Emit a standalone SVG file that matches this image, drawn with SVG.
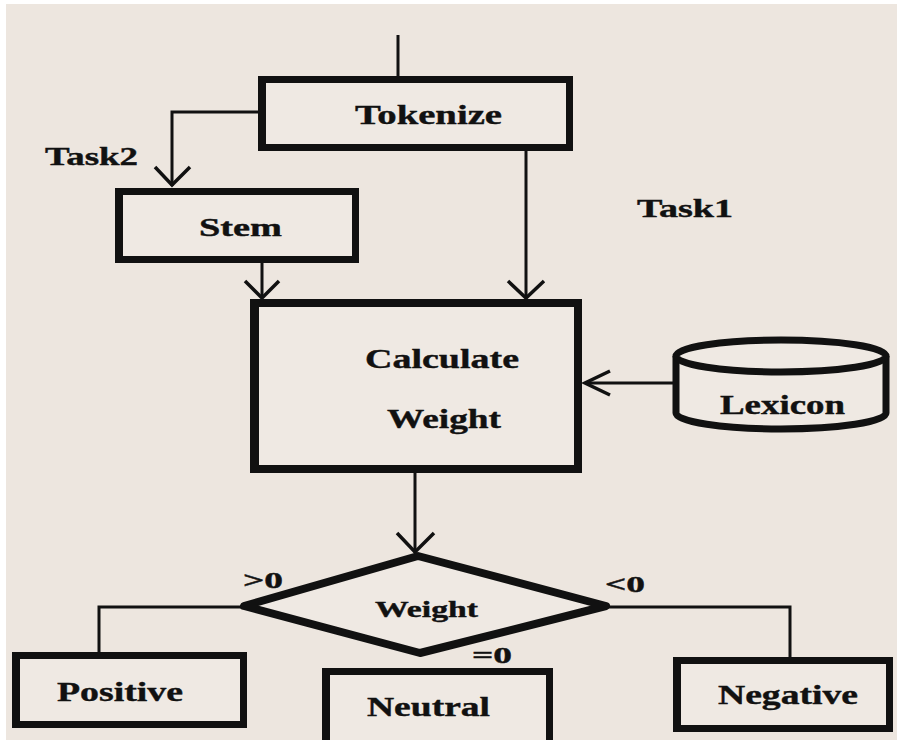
<svg xmlns="http://www.w3.org/2000/svg" width="897" height="740" viewBox="0 0 897 740">
<style>
.box{fill:#efe9e3;stroke:#111;stroke-width:7}
.edge{stroke:#111;stroke-width:4}
.ln{fill:none;stroke:#111;stroke-width:3}
.ah{fill:none;stroke:#111;stroke-width:3.5}
.t{font-family:"Liberation Serif","Times New Roman",serif;font-weight:bold;fill:#111;stroke:#111;stroke-width:0.4;text-anchor:start}
</style>
<rect x="0" y="0" width="897" height="740" fill="#ffffff"/>
<rect x="6" y="4" width="891" height="736" fill="#ede6df"/>
<g id="connectors">
<line class="ln" x1="398" y1="35" x2="398" y2="76"/>
<polyline class="ln" points="258,112 172,112 172,186"/>
<polyline class="ah" points="155,167 172,185 190,167"/>
<line class="ln" x1="262" y1="263" x2="262" y2="298"/>
<polyline class="ah" points="245,281 262,298 279,281"/>
<line class="ln" x1="526" y1="151" x2="526" y2="298"/>
<polyline class="ah" points="508,281 526,298 544,281"/>
<line class="ln" x1="673" y1="383" x2="585" y2="383"/>
<polyline class="ah" points="610,371 585,383 610,395"/>
<line class="ln" x1="415" y1="473" x2="415" y2="553"/>
<polyline class="ah" points="397,533 415,552 434,533"/>
<polyline class="ln" points="242,607 99,607 99,652"/>
<polyline class="ln" points="608,607 790,607 790,657"/>
</g>
<g id="tokenize">
<rect class="box" x="261.5" y="79.5" width="308" height="68"/>
<line class="edge" x1="264" y1="76" x2="264" y2="151"/>
<text class="t" x="355" y="124" font-size="28" textLength="147" lengthAdjust="spacingAndGlyphs">Tokenize</text>
</g>
<g id="task2"><text class="t" x="45" y="165" font-size="26" textLength="93" lengthAdjust="spacingAndGlyphs">Task2</text></g>
<g id="task1"><text class="t" x="637" y="217" font-size="26" textLength="96" lengthAdjust="spacingAndGlyphs">Task1</text></g>
<g id="stem">
<rect class="box" x="118.5" y="191.5" width="237" height="68"/>
<line class="edge" x1="121" y1="188" x2="121" y2="263"/>
<text class="t" x="199" y="236" font-size="26" textLength="83" lengthAdjust="spacingAndGlyphs">Stem</text>
</g>
<g id="calculate">
<rect class="box" x="254" y="303" width="324" height="166" style="stroke-width:8"/>
<line class="edge" x1="257" y1="299" x2="257" y2="473"/>
<text class="t" x="365" y="368" font-size="27" textLength="154" lengthAdjust="spacingAndGlyphs">Calculate</text>
<text class="t" x="387" y="428" font-size="27" textLength="114" lengthAdjust="spacingAndGlyphs">Weight</text>
</g>
<g id="lexicon">
<path d="M676,356 L676,413 A105,16 0 0 0 886,413 L886,356" fill="#efe9e3" stroke="#111" stroke-width="7"/>
<ellipse cx="781" cy="356" rx="105" ry="16" fill="#efe9e3" stroke="#111" stroke-width="7"/>
<text class="t" x="720" y="414" font-size="28" textLength="125" lengthAdjust="spacingAndGlyphs">Lexicon</text>
</g>
<g id="decision">
<polygon points="418,556 606,606 420,653 244,606" fill="#efe9e3" stroke="#111" stroke-width="8" stroke-linejoin="round"/>
<text class="t" x="375" y="617" font-size="23" textLength="103" lengthAdjust="spacingAndGlyphs">Weight</text>
</g>
<g id="labels">
<text class="t" x="243" y="588" font-size="23" textLength="40" lengthAdjust="spacingAndGlyphs">&gt;0</text>
<text class="t" x="472" y="663" font-size="23" textLength="40" lengthAdjust="spacingAndGlyphs">=0</text>
<text class="t" x="605" y="592" font-size="23" textLength="40" lengthAdjust="spacingAndGlyphs">&lt;0</text>
</g>
<g id="positive">
<rect class="box" x="15.5" y="655.5" width="228" height="69"/>
<line class="edge" x1="18" y1="652" x2="18" y2="728"/>
<text class="t" x="57" y="701" font-size="28" textLength="126" lengthAdjust="spacingAndGlyphs">Positive</text>
</g>
<g id="neutral">
<rect class="box" x="325.5" y="671.5" width="224" height="80"/>
<line class="edge" x1="328" y1="668" x2="328" y2="740"/>
<text class="t" x="367" y="716" font-size="28" textLength="123" lengthAdjust="spacingAndGlyphs">Neutral</text>
</g>
<g id="negative">
<rect class="box" x="676.5" y="660.5" width="213" height="68"/>
<line class="edge" x1="679" y1="657" x2="679" y2="732"/>
<text class="t" x="718" y="704" font-size="28" textLength="140" lengthAdjust="spacingAndGlyphs">Negative</text>
</g>
</svg>
